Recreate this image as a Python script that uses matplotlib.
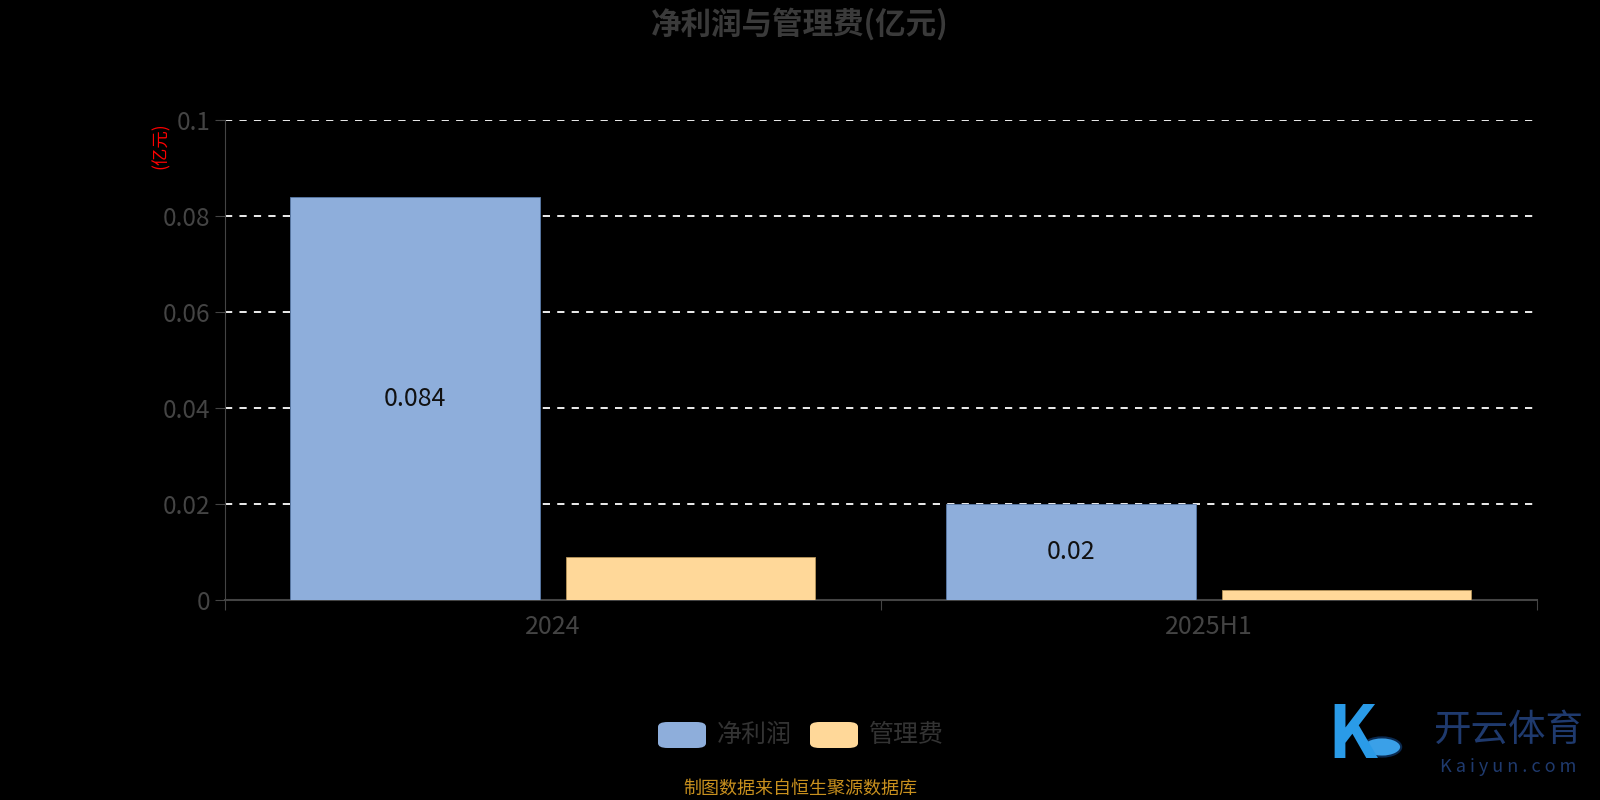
import matplotlib.pyplot as plt
import numpy as np
from matplotlib.patches import FancyBboxPatch, Circle

plt.rcParams["font.family"] = ["Noto Sans CJK SC", "DejaVu Sans"]

categories = ["2024", "2025H1"]
net_profit = [0.084, 0.02]
admin_fee = [0.009, 0.002]
series_names = ["净利润", "管理费"]
y_ticks = [0, 0.02, 0.04, 0.06, 0.08, 0.1]
y_tick_labels = ["0", "0.02", "0.04", "0.06", "0.08", "0.1"]

BLUE = "#8eaedb"
YELLOW = "#ffd899"
GRAY = "#444444"

fig = plt.figure(figsize=(16, 8), dpi=100, facecolor="black")
ax = fig.add_axes([224.5 / 1600, 1 - 600 / 800, (1537 - 224.5) / 1600, (600 - 120.4) / 800])
ax.set_facecolor("black")

x = np.arange(len(categories))
w = 0.38
b1 = ax.bar(x - 0.21, net_profit, w, color=BLUE, edgecolor="#5a7aa8", linewidth=0.6, zorder=3)
b2 = ax.bar(x + 0.21, admin_fee, w, color=YELLOW, edgecolor="#b8955a", linewidth=0.6, zorder=3)

# value labels in the middle of the blue bars
for rect, v in zip(b1, net_profit):
    ax.text(rect.get_x() + rect.get_width() / 2, v / 2, f"{v:g}", ha="center", va="center",
            fontsize=18, color="#111111", zorder=4)

ax.set_xlim(-0.5, len(categories) - 0.5)
ax.set_ylim(0, 0.1)
ax.set_yticks(y_ticks)
ax.set_yticklabels(y_tick_labels)
ax.set_xticks(np.arange(-0.5, len(categories), 1.0))
ax.set_xticklabels([])
ax.set_xticks(x, minor=True)
ax.set_xticklabels(categories, minor=True)
ax.tick_params(axis="x", which="major", length=7, color=GRAY, direction="out")
ax.tick_params(axis="x", which="minor", length=0, pad=10, labelsize=18, labelcolor=GRAY)
ax.tick_params(axis="y", length=7, color=GRAY, labelsize=17.5, labelcolor=GRAY, pad=3)

ax.yaxis.grid(True, linestyle=(0, (4, 4)), color="white", linewidth=1.3, zorder=1)
ax.yaxis.get_gridlines()[0].set_visible(False)
for s in ["top", "right"]:
    ax.spines[s].set_visible(False)
ax.spines["left"].set_color(GRAY)
ax.spines["bottom"].set_color(GRAY)
ax.spines["bottom"].set_linewidth(1.5)

fig.text(0.5, 1 - 24 / 800, "净利润与管理费(亿元)", ha="center", va="center",
         fontsize=22, fontweight="bold", color="#3a3a3a")
fig.text(161 / 1600, 1 - 146 / 800, "(亿元)", rotation=90, ha="center", va="center",
         fontsize=12.5, color="red")

# legend
for i, (name, col) in enumerate(zip(series_names, [BLUE, YELLOW])):
    x0 = (658 + i * 152) / 1600
    box = FancyBboxPatch((x0, 1 - 748 / 800), 48 / 1600, 26 / 800,
                         boxstyle="round,pad=0,rounding_size=0.006",
                         transform=fig.transFigure, facecolor=col, edgecolor="none")
    fig.patches.append(box)
    fig.text(x0 + 59 / 1600, 1 - 735 / 800, name, ha="left", va="center",
             fontsize=18, color="#333333")

fig.text(0.5, 1 - 789 / 800, "制图数据来自恒生聚源数据库", ha="center", va="center",
         fontsize=13, color="#c8901e")

# watermark logo
fig.text(1352 / 1600, 1 - 737 / 800, "K", ha="center", va="center", fontsize=52,
         fontstyle="italic", fontweight="bold", color="#2a9be8")
fig.patches.append(Circle((1382 / 1600, 1 - 747 / 800), 0.012, transform=fig.transFigure,
                          facecolor="#3aa0e8", edgecolor="#0a2a50", linewidth=1.5))
fig.text(1508 / 1600, 1 - 730 / 800, "开云体育", ha="center", va="center",
         fontsize=27, color="#1f3a6e")
fig.text(1508 / 1600, 1 - 767 / 800, "K a i y u n . c o m", ha="center", va="center",
         fontsize=13, color="#1f3a6e")

fig.savefig("out.png", dpi=100, facecolor="black")
